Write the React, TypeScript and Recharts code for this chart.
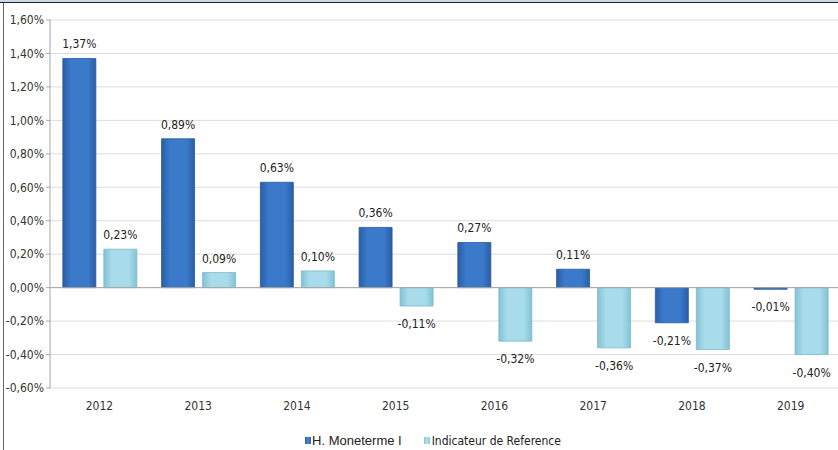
import React from 'react'
import {
  BarChart, Bar, XAxis, YAxis, CartesianGrid, Legend, ReferenceLine, LabelList
} from 'recharts'

// années (catégories)
const years = ['2012', '2013', '2014', '2015', '2016', '2017', '2018', '2019']
// performances en %
const moneterme = [1.37, 0.89, 0.63, 0.36, 0.27, 0.11, -0.21, -0.01]
const indicateur = [0.23, 0.09, 0.1, -0.11, -0.32, -0.36, -0.37, -0.4]
const yTicks = [-0.6, -0.4, -0.2, 0, 0.2, 0.4, 0.6, 0.8, 1.0, 1.2, 1.4, 1.6]

const seriesNames = ['H. Moneterme I', 'Indicateur de Reference']

const data = years.map((y, i) => ({ year: y, a: moneterme[i], b: indicateur[i] }))

const narrow = '"Liberation Sans Narrow", "DejaVu Sans Condensed", "Liberation Sans", sans-serif'

const pct = (v: number) => v.toFixed(2).replace('.', ',') + '%'

// étiquette au-dessus (positif) ou en dessous (négatif) de la barre
const ValueLabel = (props: any) => {
  const { x, y, width, height, value } = props
  const top = Math.min(y, y + height)
  const bottom = Math.max(y, y + height)
  const ty = value >= 0 ? top - 10 : bottom + 22
  return (
    <text x={x + width / 2} y={ty} textAnchor="middle" fontSize={12}
      fontFamily={narrow} fill="#222">
      {pct(value)}
    </text>
  )
}

const LegendBox = () => (
  <div style={{ display: 'flex', justifyContent: 'center', alignItems: 'center', paddingTop: 15, paddingLeft: 26 }}>
    <span style={{ display: 'inline-block', width: 6, height: 7, background: 'linear-gradient(90deg,#2a5fa8,#4a8ad8,#2a5fa8)', marginRight: 1 }} />
    <span style={{ fontFamily: '"Liberation Sans", Arial, sans-serif', fontSize: 13, color: '#222', marginRight: 22 }}>{seriesNames[0]}</span>
    <span style={{ display: 'inline-block', width: 6, height: 7, background: 'linear-gradient(90deg,#86c4d8,#b6e4f0,#86c4d8)', marginRight: 2 }} />
    <span style={{ fontFamily: narrow, fontSize: 12, color: '#222' }}>{seriesNames[1]}</span>
  </div>
)

export default function App() {
  return (
    <div style={{ position: 'absolute', left: 0, top: 0, width: 838, height: 450, background: '#fff', overflow: 'hidden' }}>
      <BarChart width={840} height={450} data={data}
        margin={{ top: 20, right: 0, left: 0, bottom: 0 }}
        barCategoryGap="13%" barGap={8}>
        <defs>
          <linearGradient id="gA" x1="0" y1="0" x2="1" y2="0">
            <stop offset="0%" stopColor="#2a5ea6" />
            <stop offset="25%" stopColor="#3b7acb" />
            <stop offset="75%" stopColor="#3b7acb" />
            <stop offset="100%" stopColor="#2a5ea6" />
          </linearGradient>
          <linearGradient id="gB" x1="0" y1="0" x2="1" y2="0">
            <stop offset="0%" stopColor="#82c2d6" />
            <stop offset="25%" stopColor="#a9dcea" />
            <stop offset="75%" stopColor="#a9dcea" />
            <stop offset="100%" stopColor="#82c2d6" />
          </linearGradient>
        </defs>
        <CartesianGrid vertical={false} stroke="#dcdcdc" />
        <XAxis dataKey="year" axisLine={false} tickLine={false} tickSize={0} tickMargin={13}
          height={30} tick={{ fontSize: 12, fontFamily: narrow, fill: '#333' }} />
        <YAxis domain={[-0.6, 1.6]} ticks={yTicks} width={50} tickSize={4}
          stroke="#a6a6a6" tickFormatter={(v: number) => pct(v)}
          tick={{ fontSize: 12, fontFamily: narrow, fill: '#333' }} />
        <ReferenceLine y={0} stroke="#a6a6a6" />
        <Legend verticalAlign="bottom" height={32} content={<LegendBox />} />
        <Bar dataKey="a" name={seriesNames[0]} fill="url(#gA)" stroke="#2a5898" strokeWidth={0.8}
          isAnimationActive={false}>
          <LabelList dataKey="a" content={<ValueLabel />} />
        </Bar>
        <Bar dataKey="b" name={seriesNames[1]} fill="url(#gB)" stroke="#7bb7cb" strokeWidth={0.8}
          isAnimationActive={false}>
          <LabelList dataKey="b" content={<ValueLabel />} />
        </Bar>
      </BarChart>
      {/* cadre coupé de la capture d'origine */}
      <div style={{ position: 'absolute', left: 0, top: 0, width: 838, height: 2, background: '#c9d8ec' }} />
      <div style={{ position: 'absolute', left: 0, top: 2, width: 838, height: 1, background: '#222' }} />
      <div style={{ position: 'absolute', left: 3, top: 3, width: 1, height: 447, background: '#666' }} />
    </div>
  )
}
